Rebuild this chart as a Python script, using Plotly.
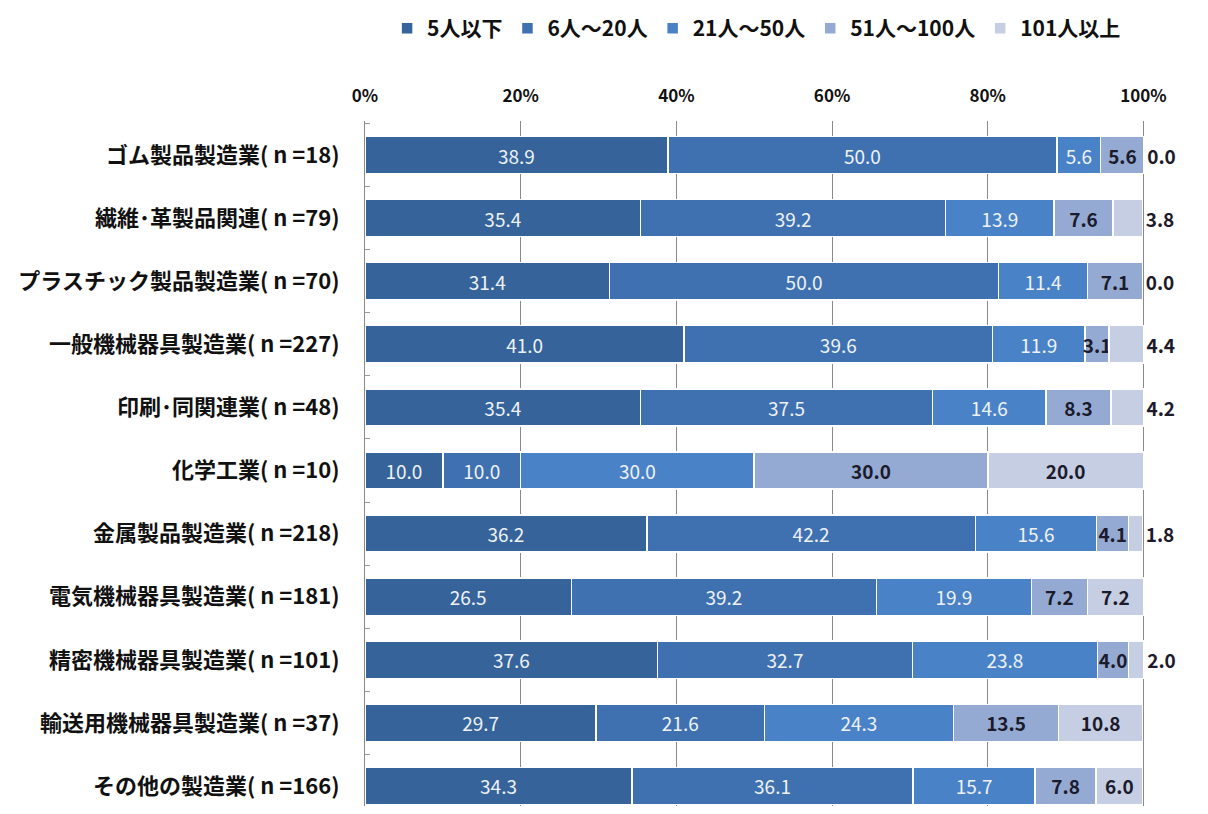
import plotly.graph_objects as go

categories = [
    "ゴム製品製造業( n =18)",
    "繊維･革製品関連( n =79)",
    "プラスチック製品製造業( n =70)",
    "一般機械器具製造業( n =227)",
    "印刷･同関連業( n =48)",
    "化学工業( n =10)",
    "金属製品製造業( n =218)",
    "電気機械器具製造業( n =181)",
    "精密機械器具製造業( n =101)",
    "輸送用機械器具製造業( n =37)",
    "その他の製造業( n =166)",
]

series_names = ["5人以下", "6人～20人", "21人～50人", "51人～100人", "101人以上"]

s1 = [38.9, 35.4, 31.4, 41.0, 35.4, 10.0, 36.2, 26.5, 37.6, 29.7, 34.3]
s2 = [50.0, 39.2, 50.0, 39.6, 37.5, 10.0, 42.2, 39.2, 32.7, 21.6, 36.1]
s3 = [5.6, 13.9, 11.4, 11.9, 14.6, 30.0, 15.6, 19.9, 23.8, 24.3, 15.7]
s4 = [5.6, 7.6, 7.1, 3.1, 8.3, 30.0, 4.1, 7.2, 4.0, 13.5, 7.8]
s5 = [0.0, 3.8, 0.0, 4.4, 4.2, 20.0, 1.8, 7.2, 2.0, 10.8, 6.0]

tick_vals = [0, 20, 40, 60, 80, 100]
tick_text = ["0%", "20%", "40%", "60%", "80%", "100%"]

colors = ["#35639A", "#3F70B0", "#4A82C8", "#94AAD3", "#C6CEE4"]
text_colors = ["#eef2f8", "#eef2f8", "#eef2f8", "#1b1b2b", "#1b1b2b"]
bold = [False, False, False, True, True]

FONT = "Noto Sans CJK JP"

fig = go.Figure()
for i, (name, vals, col, tcol, b) in enumerate(zip(series_names, [s1, s2, s3, s4, s5], colors, text_colors, bold)):
    if i == 4:
        tpos = ["outside" if v < 5 else "inside" for v in vals]
    else:
        tpos = "inside"
    fig.add_trace(go.Bar(
        y=categories, x=vals, name=name, orientation="h",
        marker=dict(color=col, line=dict(color="white", width=1.5)),
        text=[f"{v:.1f}" for v in vals],
        textposition=tpos, insidetextanchor="middle", textangle=0,
        textfont=dict(color=tcol, size=19, family=FONT, weight="bold" if b else "normal"),
        cliponaxis=False,
    ))

fig.update_layout(
    barmode="stack",
    bargap=0.41,
    width=1192, height=798,
    margin=dict(l=357, r=55, t=113, b=0),
    paper_bgcolor="white", plot_bgcolor="white",
    font=dict(family=FONT, size=15, color="#111"),
    uniformtext=dict(minsize=19, mode="show"),
    legend=dict(
        orientation="h", x=0.628, xanchor="center", xref="container",
        y=1.0, yanchor="top", yref="container", traceorder="normal",
        font=dict(size=21, family=FONT, weight="bold", color="#111"),
        itemwidth=30, tracegroupgap=0,
    ),
    showlegend=True,
)
fig.update_xaxes(
    range=[0, 100.2], side="top", tickvals=tick_vals, ticktext=tick_text,
    showgrid=True, gridcolor="#8a8a8a", gridwidth=1,
    zeroline=False, showline=False,
    tickfont=dict(size=17, family=FONT, weight="bold", color="#111"),
    ticklabelstandoff=15,
)
fig.update_yaxes(
    categoryorder="array", categoryarray=categories,
    range=[10.317, -0.539],
    showline=True, linecolor="#8a8a8a", linewidth=1,
    showgrid=False,
    ticks="inside", tickson="boundaries", ticklen=5, tickcolor="#9a9a9a",
    tickfont=dict(size=22, family=FONT, weight="bold", color="#111"),
    ticklabelstandoff=20,
)

fig.write_html("out.html")
